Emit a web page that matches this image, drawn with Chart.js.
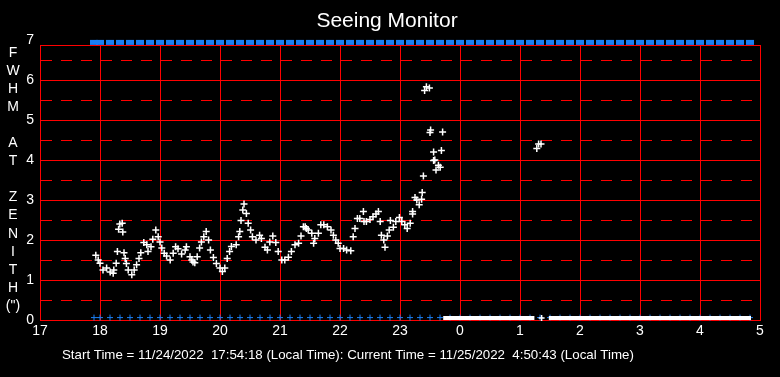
<!DOCTYPE html>
<html>
<head>
<meta charset="utf-8">
<title>Seeing Monitor</title>
<script src="https://cdn.jsdelivr.net/npm/chart.js@4/dist/chart.umd.min.js"></script>
<style>
  html, body { margin: 0; padding: 0; background: #000; }
  canvas { display: block; background: #000; }
</style>
</head>
<body>
<canvas id="seeingChart" width="780" height="377"></canvas>
<script>
// X 軸刻度（小時，過了午夜就回到 0）
const hourTicks = [17, 18, 19, 20, 21, 22, 23, 24, 25, 26, 27, 28, 29];
// Y 軸刻度：標籤 0..7，圖框頂端在 6.875
const fwhmTicks = [0, 1, 2, 3, 4, 5, 6, 7];
const fwhmTop = 6.875;

// FWHM 量測值：時間（小時，午夜後 +24）與數值（弧秒）
const seeingTimes = [
  17.93, 17.97, 18.00, 18.05, 18.11, 18.17, 18.22, 18.23, 18.27, 18.29,
  18.31, 18.33, 18.37, 18.38, 18.40, 18.42, 18.44, 18.47, 18.53, 18.57,
  18.61, 18.65, 18.68, 18.73, 18.78, 18.80, 18.85, 18.88, 18.93, 18.97,
  19.00, 19.03, 19.07, 19.11, 19.17, 19.22, 19.26, 19.30, 19.36, 19.42,
  19.44, 19.50, 19.53, 19.55, 19.58, 19.62, 19.66, 19.69, 19.73, 19.77,
  19.81, 19.84, 19.89, 19.94, 20.00, 20.04, 20.08, 20.12, 20.16, 20.19,
  20.27, 20.31, 20.33, 20.35, 20.38, 20.40, 20.44, 20.47, 20.51, 20.54,
  20.60, 20.66, 20.69, 20.75, 20.79, 20.83, 20.88, 20.93, 20.97, 21.03,
  21.08, 21.14, 21.19, 21.25, 21.31, 21.35, 21.39, 21.42, 21.44, 21.47,
  21.53, 21.56, 21.58, 21.64, 21.68, 21.73, 21.79, 21.85, 21.89, 21.93,
  21.97, 22.00, 22.06, 22.11, 22.18, 22.22, 22.25, 22.29, 22.33, 22.39,
  22.40, 22.44, 22.50, 22.55, 22.60, 22.64, 22.67, 22.69, 22.73, 22.75,
  22.79, 22.82, 22.84, 22.89, 22.93, 22.99, 23.03, 23.08, 23.12, 23.17,
  23.21, 23.21, 23.25, 23.28, 23.32, 23.36, 23.37, 23.39, 23.41, 23.44,
  23.49, 23.50, 23.51, 23.56, 23.56, 23.58, 23.60, 23.64, 23.67, 23.69,
  23.71, 25.28, 25.31, 25.35
];
const seeingValues = [
  1.62, 1.50, 1.42, 1.25, 1.30, 1.20, 1.17, 1.25, 1.42, 1.71,
  2.27, 2.40, 2.42, 2.20, 1.68, 1.54, 1.41, 1.25, 1.13, 1.25,
  1.38, 1.54, 1.68, 1.94, 1.88, 1.71, 1.83, 2.02, 2.25, 2.08,
  1.95, 1.80, 1.67, 1.60, 1.50, 1.67, 1.83, 1.78, 1.65, 1.75,
  1.83, 1.58, 1.50, 1.45, 1.43, 1.58, 1.80, 1.95, 2.08, 2.21,
  2.00, 1.75, 1.56, 1.41, 1.30, 1.21, 1.30, 1.54, 1.71, 1.84,
  1.88, 2.08, 2.21, 2.49, 2.75, 2.90, 2.66, 2.42, 2.25, 2.08,
  2.00, 2.12, 2.04, 1.82, 1.75, 1.95, 2.10, 1.94, 1.71, 1.50,
  1.50, 1.57, 1.71, 1.88, 1.92, 2.10, 2.33, 2.33, 2.29, 2.25,
  2.17, 1.92, 2.04, 2.17, 2.38, 2.38, 2.33, 2.25, 2.12, 2.00,
  1.92, 1.79, 1.79, 1.75, 1.73, 2.08, 2.29, 2.54, 2.54, 2.71,
  2.46, 2.46, 2.51, 2.58, 2.65, 2.71, 2.46, 2.12, 2.00, 1.82,
  2.10, 2.25, 2.49, 2.32, 2.46, 2.56, 2.46, 2.38, 2.29, 2.42,
  2.65, 2.71, 3.06, 3.00, 2.88, 3.02, 3.19, 3.60, 5.74, 5.83,
  5.80, 4.69, 4.75, 4.20, 3.99, 4.00, 3.75, 3.87, 3.82, 4.24,
  4.70, 4.29, 4.40, 4.40
];

// 每 10 分鐘一次的取樣時間（上下兩排藍色標記）
const sampleTimes = [
  '17:54',
  '18:00', '18:10', '18:20', '18:30', '18:40', '18:50',
  '19:00', '19:10', '19:20', '19:30', '19:40', '19:50',
  '20:00', '20:10', '20:20', '20:30', '20:40', '20:50',
  '21:00', '21:10', '21:20', '21:30', '21:40', '21:50',
  '22:00', '22:10', '22:20', '22:30', '22:40', '22:50',
  '23:00', '23:10', '23:20', '23:30', '23:40', '23:50',
  '0:00', '0:10', '0:20', '0:30', '0:40', '0:50',
  '1:00', '1:10', '1:20', '1:30', '1:40', '1:50',
  '2:00', '2:10', '2:20', '2:30', '2:40', '2:50',
  '3:00', '3:10', '3:20', '3:30', '3:40', '3:50',
  '4:00', '4:10', '4:20', '4:30', '4:40', '4:50'
];

// 沒有量到數值（記為 0）的時段，白色粗帶
const zeroBandTimes = [23.72, 25.24, null, 25.48, 28.85];
const zeroSingleTimes = [25.36];

const titleText = 'Seeing Monitor';
const caption = 'Start Time = 11/24/2022  17:54:18 (Local Time): Current Time = 11/25/2022  4:50:43 (Local Time)';
const yLetters = ['F', 'W', 'H', 'M', '', 'A', 'T', '', 'Z', 'E', 'N', 'I', 'T', 'H', '(")'];

const toHours = (s) => {
    const [h, m] = s.split(':').map(Number);
    return (h < 12 ? h + 24 : h) + m / 60;
};

const FONT = '"Liberation Sans", Arial, sans-serif';
const RED = '#ff0000';
const BLUE = '#1a7ff5';
Chart.defaults.font.family = FONT;

// 標題、左側直排軸標題與下方時間說明
const textPlugin = {
    id: 'seeingText',
    afterDraw(chart) {
        const c = chart.ctx;
        c.save();
        c.fillStyle = '#ffffff';
        c.textAlign = 'center';
        c.textBaseline = 'middle';
        c.font = '21px ' + FONT;
        c.fillText(titleText, 387, 21);
        c.font = '14px ' + FONT;
        yLetters.forEach((ch, i) => c.fillText(ch, 13, 53 + i * 18.07));
        c.font = '13.3px ' + FONT;
        c.textAlign = 'left';
        c.fillText(caption, 62, 355);
        c.restore();
    }
};

const isHalf = (v) => !Number.isInteger(v) && v !== fwhmTop;

const ctx = document.getElementById('seeingChart').getContext('2d');

new Chart(ctx, {
    type: 'scatter',
    data: {
        datasets: [
            {
                label: 'FWHM',
                data: seeingTimes.map((t, i) => ({ x: t, y: seeingValues[i] })),
                pointStyle: 'cross',
                pointRadius: 3.5,
                borderColor: '#ffffff',
                borderWidth: 1.5,
                order: 0
            },
            {
                label: 'zero band',
                type: 'line',
                data: zeroBandTimes.map(t => ({ x: t === null ? 25.3 : t, y: t === null ? null : 0.05 })),
                borderColor: '#ffffff',
                borderWidth: 4,
                pointRadius: 0,
                spanGaps: false,
                clip: false,
                order: 1
            },
            {
                label: 'zero single',
                data: zeroSingleTimes.map(t => ({ x: t, y: 0.05 })),
                pointStyle: 'cross',
                pointRadius: 3,
                borderColor: '#ffffff',
                borderWidth: 1.5,
                clip: false,
                order: 1
            },
            {
                label: 'samples bottom',
                data: sampleTimes.map(s => ({ x: toHours(s), y: 0.06 })),
                pointStyle: 'cross',
                pointRadius: 3,
                borderColor: BLUE,
                borderWidth: 1,
                clip: false,
                order: 2
            },
            {
                label: 'samples top',
                data: sampleTimes.map(s => ({ x: toHours(s), y: 6.94 })),
                pointStyle: 'line',
                pointRadius: 4,
                borderColor: BLUE,
                borderWidth: 5,
                clip: false,
                order: 2
            }
        ]
    },
    options: {
        responsive: false,
        animation: false,
        events: [],
        layout: { padding: { left: 0, right: 20, top: 45, bottom: 0 } },
        plugins: {
            legend: { display: false },
            tooltip: { enabled: false },
            title: { display: false }
        },
        scales: {
            x: {
                type: 'linear',
                min: hourTicks[0],
                max: hourTicks[hourTicks.length - 1],
                afterBuildTicks: (scale) => { scale.ticks = hourTicks.map(v => ({ value: v })); },
                afterFit: (scale) => { scale.height = 57; },
                ticks: {
                    color: '#ffffff',
                    font: { size: 14 },
                    padding: 3,
                    maxRotation: 0,
                    autoSkip: false,
                    callback: (v) => v % 24
                },
                grid: { color: RED, lineWidth: 1, drawTicks: false },
                border: { color: RED, width: 1 }
            },
            y: {
                min: 0,
                max: fwhmTop,
                // 整數刻度畫實線，半格畫虛線；7 只有標籤，圖框頂線在 6.875
                // 半格減一點點，避免浮點誤差讓虛線偏到上一列像素
                afterBuildTicks: (scale) => {
                    const t = [];
                    fwhmTicks.forEach(v => {
                        t.push({ value: v });
                        if (v + 0.5 < fwhmTop) t.push({ value: v + 0.5 - 1e-6 });
                    });
                    t.push({ value: fwhmTop });
                    scale.ticks = t.sort((a, b) => a.value - b.value);
                },
                afterFit: (scale) => { scale.width = 40; },
                ticks: {
                    color: '#ffffff',
                    font: { size: 14 },
                    padding: 6,
                    autoSkip: false,
                    callback: (v) => (Number.isInteger(v) ? v : '')
                },
                grid: {
                    color: (c) => (c.tick && c.tick.value > fwhmTop ? 'rgba(0,0,0,0)' : RED),
                    lineWidth: 1,
                    drawTicks: false
                },
                border: {
                    color: RED,
                    width: 1,
                    dash: (c) => (c.tick && isHalf(c.tick.value) ? [11, 9] : [])
                }
            }
        }
    },
    plugins: [textPlugin]
});
</script>
</body>
</html>
